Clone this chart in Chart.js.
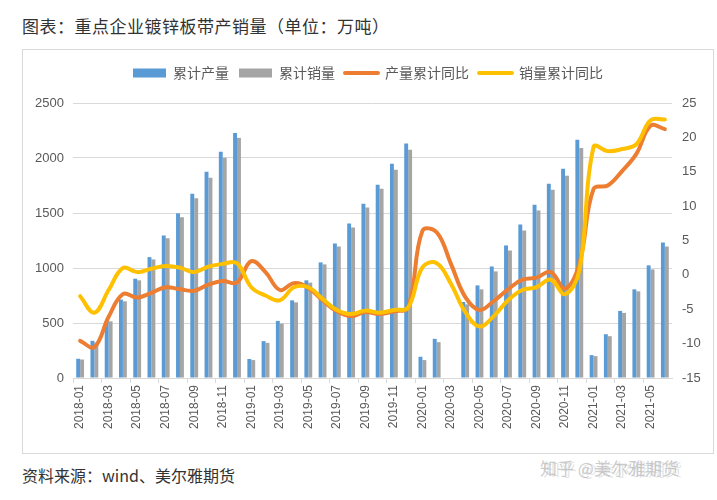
<!DOCTYPE html>
<html>
<head>
<meta charset="utf-8">
<script src="https://cdn.jsdelivr.net/npm/chart.js@4.4.0/dist/chart.umd.min.js"></script>
<style>
body { margin: 0; background: #fff; width: 717px; height: 500px; position: relative; overflow: hidden; font-family: 'Noto Sans CJK SC', sans-serif; }
#title { position: absolute; left: 22px; top: 16px; font-size: 17px; line-height: 20px; color: #333; letter-spacing: 0.5px; }
#box { position: absolute; left: 22px; top: 49px; width: 692px; height: 405px; border: 1px solid #d9d9d9; box-sizing: border-box; }
#source { position: absolute; left: 22px; top: 465px; font-size: 16px; line-height: 20px; color: #333; }
#mark { position: absolute; left: 540px; top: 458px; font-size: 17px; line-height: 20px; color: rgba(170,170,170,0.6); text-shadow: 3px 1px 0 rgba(190,190,190,0.4); }
</style>
</head>
<body>
<div id="title">图表：重点企业镀锌板带产销量（单位：万吨）</div>
<div id="box"><canvas id="chart" width="690" height="403"></canvas></div>
<div id="source">资料来源：wind、美尔雅期货</div>
<div id="mark">知乎 @美尔雅期货</div>
<script>
const months = [
    '2018-01','2018-02','2018-03','2018-04','2018-05','2018-06','2018-07','2018-08','2018-09','2018-10','2018-11','2018-12',
    '2019-01','2019-02','2019-03','2019-04','2019-05','2019-06','2019-07','2019-08','2019-09','2019-10','2019-11','2019-12',
    '2020-01','2020-02','2020-03','2020-04','2020-05','2020-06','2020-07','2020-08','2020-09','2020-10','2020-11','2020-12',
    '2021-01','2021-02','2021-03','2021-04','2021-05','2021-06'
];

// 累计产量 / 累计销量 (万吨)
const prodCum = [
    175, 338, 519, 713, 903, 1099, 1295, 1497, 1676, 1875, 2056, 2228,
    173, 335, 519, 706, 888, 1051, 1223, 1404, 1585, 1757, 1947, 2132,
    193, 356, null, 691, 842, 1014, 1205, 1395, 1576, 1766, 1902, 2165,
    208, 398, 610, 806, 1024, 1232
];
const salesCum = [
    168, 322, 515, 697, 888, 1078, 1271, 1461, 1633, 1821, 2002, 2183,
    163, 320, 495, 688, 867, 1033, 1196, 1368, 1549, 1721, 1893, 2074,
    163, 326, null, 670, 806, 969, 1159, 1340, 1522, 1712, 1839, 2092,
    199, 380, 592, 788, 987, 1196
];

// 累计同比 (%)
const prodYoY = [
    -9.6, -10.5, -6.1, -2.8, -3.3, -2.6, -1.8, -2.1, -2.3, -1.4, -0.9, -1.1,
    2.0, 0.4, -2.2, -1.2, -1.9, -3.7, -5.3, -6.0, -5.4, -5.7, -5.3, -4.7,
    6.4, 6.2, 1.6, -3.2, -5.1, -3.8, -2.1, -0.7, -0.4, 0.4, -2.0, 1.6,
    12.5, 13.0, 15.1, 17.6, 21.7, 21.2
];
const salesYoY = [
    -3.1, -5.5, -2.2, 1.0, 0.4, 0.9, 1.3, 1.05, 0.4, 1.2, 1.6, 1.7,
    -1.8, -3.0, -3.7, -1.8, -1.8, -3.5, -5.1, -5.7, -5.2, -5.5, -5.1, -4.75,
    1.1, 1.7, -1.3, -5.4, -7.5, -6.0, -3.7, -2.2, -1.8, -0.7, -2.8, 0.65,
    18.6, 18.0, 18.3, 19.0, 22.5, 22.6
];

const leftTicks = [0, 2500, 500];
const rightTicks = [-15, 25, 5];

const tickFont = { family: "'Liberation Sans', Arial, sans-serif", size: 13 };

new Chart(document.getElementById('chart'), {
    type: 'bar',
    data: {
        labels: months,
        datasets: [
            { label: '累计产量', data: prodCum, backgroundColor: '#5b9bd5', yAxisID: 'y', order: 10,
              barPercentage: 1.0, categoryPercentage: 0.55 },
            { label: '累计销量', data: salesCum, backgroundColor: '#a5a5a5', yAxisID: 'y', order: 10,
              barPercentage: 1.0, categoryPercentage: 0.55 },
            { type: 'line', label: '产量累计同比', data: prodYoY, borderColor: '#ed7d31', backgroundColor: '#ed7d31',
              borderWidth: 4, borderCapStyle: 'round', pointRadius: 0, tension: 0.4, yAxisID: 'y1', order: 2 },
            { type: 'line', label: '销量累计同比', data: salesYoY, borderColor: '#ffc000', backgroundColor: '#ffc000',
              borderWidth: 4, borderCapStyle: 'round', pointRadius: 0, tension: 0.4, yAxisID: 'y1', order: 1 }
        ]
    },
    options: {
        responsive: false,
        animation: false,
        layout: { padding: { top: 6, left: 0, right: 0, bottom: 0 } },
        plugins: {
            tooltip: { enabled: false },
            legend: {
                position: 'top',
                labels: {
                    color: '#595959',
                    font: { family: "'Noto Sans CJK SC', sans-serif", size: 14 },
                    usePointStyle: true,
                    pointStyleWidth: 33,
                    boxHeight: 9,
                    padding: 10,
                    sort: (a, b) => a.datasetIndex - b.datasetIndex,
                    generateLabels: function(chart) {
                        const items = Chart.defaults.plugins.legend.labels.generateLabels(chart);
                        items.forEach(item => {
                            const ds = chart.data.datasets[item.datasetIndex];
                            if (ds.type === 'line') {
                                item.pointStyle = 'line';
                                item.lineWidth = 4;
                                item.strokeStyle = ds.borderColor;
                                item.lineCap = 'round';
                            } else {
                                item.pointStyle = 'rect';
                                item.lineWidth = 0;
                            }
                        });
                        return items;
                    }
                }
            }
        },
        scales: {
            x: {
                afterFit: s => { s.height = 75; },
                border: { display: true, color: '#d9d9d9' },
                grid: {
                    offset: true,
                    drawOnChartArea: false,
                    drawTicks: true,
                    tickLength: 5,
                    color: ctx => (ctx.index % 2 === 0 ? '#d9d9d9' : 'rgba(0,0,0,0)')
                },
                ticks: {
                    autoSkip: false,
                    maxRotation: 90,
                    minRotation: 90,
                    padding: 2,
                    color: '#595959',
                    font: { family: "'Liberation Sans', Arial, sans-serif", size: 12 },
                    callback: (v, i) => (i % 2 === 0 ? months[i] : '')
                }
            },
            // empty strip between legend and plot
            gap: {
                type: 'category',
                position: 'top',
                afterFit: s => { s.height = 13; },
                border: { display: false },
                grid: { display: false },
                ticks: { display: false }
            },
            y: {
                position: 'left',
                min: leftTicks[0],
                max: leftTicks[1],
                afterFit: s => { s.width = 50; },
                border: { display: false },
                grid: { color: '#d9d9d9', drawTicks: false },
                ticks: { stepSize: leftTicks[2], padding: 9, color: '#595959', font: tickFont,
                         callback: v => String(v) }
            },
            y1: {
                position: 'right',
                min: rightTicks[0],
                max: rightTicks[1],
                afterFit: s => { s.width = 41; },
                border: { display: false },
                grid: { drawOnChartArea: false, drawTicks: false },
                ticks: { stepSize: rightTicks[2], padding: 10, color: '#595959', font: tickFont }
            }
        }
    }
});
</script>
</body>
</html>
